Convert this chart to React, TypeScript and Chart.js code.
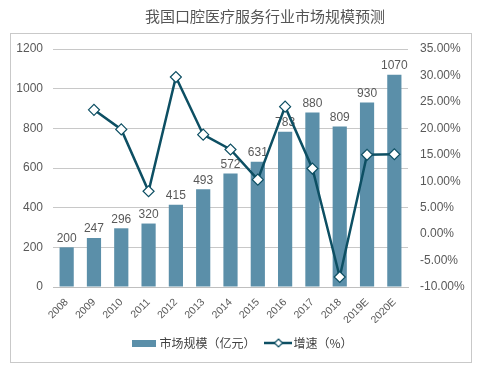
import React, { useEffect, useRef } from 'react';
import { Chart, registerables } from 'chart.js';

Chart.register(...registerables);

const titleText = '我国口腔医疗服务行业市场规模预测';
const categories = ['2008', '2009', '2010', '2011', '2012', '2013', '2014', '2015', '2016', '2017', '2018', '2019E', '2020E'];
const marketSize = [200, 247, 296, 320, 415, 493, 572, 631, 783, 880, 809, 930, 1070];
const growthRate: (number | null)[] = [null, 23.5, 19.8, 8.1, 29.7, 18.8, 16.0, 10.3, 24.1, 12.4, -8.1, 15.0, 15.1];
const seriesNames = ['市场规模（亿元）', '增速（%）'];
const leftAxis = { min: 0, max: 1200, step: 200 };
const rightAxis = { min: -10, max: 35, step: 5 };

const BAR_COLOR = '#5b8fa9';
const LINE_COLOR = '#0d4f63';
const TEXT_COLOR = '#595959';
const FONT = "'Liberation Sans', 'Noto Sans CJK SC', Arial, sans-serif";
const CJK_FONT = "'Noto Sans CJK SC', 'Liberation Sans', sans-serif";

function makeBarSwatch() {
  const c = document.createElement('canvas');
  c.width = 24; c.height = 7;
  const ctx = c.getContext('2d')!;
  ctx.fillStyle = BAR_COLOR;
  ctx.fillRect(0, 0, 24, 7);
  return c;
}

function makeLineSwatch() {
  const c = document.createElement('canvas');
  c.width = 28; c.height = 12;
  const ctx = c.getContext('2d')!;
  ctx.strokeStyle = LINE_COLOR;
  ctx.lineWidth = 2.5;
  ctx.beginPath();
  ctx.moveTo(0, 6); ctx.lineTo(28, 6);
  ctx.stroke();
  ctx.beginPath();
  ctx.moveTo(14, 2); ctx.lineTo(18, 6); ctx.lineTo(14, 10); ctx.lineTo(10, 6); ctx.closePath();
  ctx.fillStyle = '#ffffff';
  ctx.fill();
  ctx.lineWidth = 1.2;
  ctx.stroke();
  return c;
}

const framePlugin = {
  id: 'frameAndTitle',
  beforeDraw(chart: any) {
    const ctx = chart.ctx;
    ctx.save();
    ctx.fillStyle = '#ffffff';
    ctx.fillRect(0, 0, chart.width, chart.height);
    ctx.strokeStyle = '#c9c9c9';
    ctx.lineWidth = 1;
    ctx.strokeRect(10.5, 33.5, 461, 329);
    ctx.fillStyle = '#555555';
    ctx.font = `15px ${CJK_FONT}`;
    ctx.textAlign = 'center';
    ctx.textBaseline = 'middle';
    ctx.fillText(titleText, 265, 16);
    ctx.restore();
  },
};

const barLabelPlugin = {
  id: 'barLabels',
  afterDatasetDraw(chart: any, args: any) {
    if (args.index !== 0) return;
    const ctx = chart.ctx;
    const meta = chart.getDatasetMeta(0);
    ctx.save();
    ctx.fillStyle = TEXT_COLOR;
    ctx.font = `12px ${FONT}`;
    ctx.textAlign = 'center';
    ctx.textBaseline = 'bottom';
    meta.data.forEach((bar: any, i: number) => {
      ctx.fillText(String(marketSize[i]), bar.x, bar.y - 3);
    });
    ctx.restore();
  },
};

export default function App() {
  const ref = useRef<HTMLCanvasElement>(null);

  useEffect(() => {
    if (!ref.current) return;
    const barSwatch = makeBarSwatch();
    const lineSwatch = makeLineSwatch();
    const chart = new Chart(ref.current, {
      type: 'bar',
      data: {
        labels: categories,
        datasets: [
          {
            type: 'bar',
            label: seriesNames[0],
            data: marketSize,
            backgroundColor: BAR_COLOR,
            borderWidth: 0,
            barPercentage: 0.52,
            categoryPercentage: 1,
            yAxisID: 'y',
            order: 1,
          },
          {
            type: 'line',
            label: seriesNames[1],
            data: growthRate as any,
            borderColor: LINE_COLOR,
            borderWidth: 2.5,
            tension: 0,
            pointStyle: 'rectRot',
            pointRadius: 5.5,
            pointBackgroundColor: '#ffffff',
            pointBorderColor: LINE_COLOR,
            pointBorderWidth: 1.2,
            yAxisID: 'y1',
            order: 0,
          },
        ],
      },
      options: {
        responsive: false,
        animation: false,
        layout: { padding: { top: 49, left: 0, right: 12, bottom: 25 } },
        plugins: {
          title: { display: false },
          tooltip: { enabled: false },
          legend: {
            position: 'bottom',
            labels: {
              usePointStyle: true,
              pointStyleWidth: 18,
              padding: 14,
              color: '#404040',
              font: { size: 12, family: CJK_FONT },
              generateLabels: () => [
                { text: seriesNames[0], pointStyle: barSwatch as any, datasetIndex: 0, hidden: false, lineWidth: 0, fillStyle: BAR_COLOR, strokeStyle: BAR_COLOR, fontColor: '#404040' },
                { text: seriesNames[1], pointStyle: lineSwatch as any, datasetIndex: 1, hidden: false, lineWidth: 0, fillStyle: LINE_COLOR, strokeStyle: LINE_COLOR, fontColor: '#404040' },
              ],
            },
          },
        },
        scales: {
          x: {
            grid: { display: false },
            border: { display: true, color: '#bfbfbf' },
            ticks: {
              color: TEXT_COLOR,
              font: { size: 10.5, family: FONT },
              minRotation: 45,
              maxRotation: 45,
              padding: 1,
            },
            afterFit: (s: any) => { s.height = 36; },
          },
          y: {
            position: 'left',
            min: leftAxis.min,
            max: leftAxis.max,
            grid: { color: '#c8c8c8', drawTicks: false },
            border: { display: false },
            ticks: {
              stepSize: leftAxis.step,
              color: TEXT_COLOR,
              font: { size: 12, family: FONT },
              padding: 10,
              callback: (v: any) => String(v),
            },
            afterFit: (s: any) => { s.width = 53; },
          },
          y1: {
            position: 'right',
            min: rightAxis.min,
            max: rightAxis.max,
            grid: { display: false, drawTicks: false },
            border: { display: false },
            ticks: {
              stepSize: rightAxis.step,
              color: TEXT_COLOR,
              font: { size: 12, family: FONT },
              padding: 12,
              callback: (v: any) => `${Number(v).toFixed(2)}%`,
            },
            afterFit: (s: any) => { s.width = 80; },
          },
        },
      },
      plugins: [framePlugin, barLabelPlugin],
    });
    return () => chart.destroy();
  }, []);

  return (
    <div style={{ position: 'absolute', left: 0, top: 0, width: 500, height: 384, background: '#fff' }}>
      <canvas ref={ref} width={500} height={384} style={{ display: 'block' }} />
    </div>
  );
}
